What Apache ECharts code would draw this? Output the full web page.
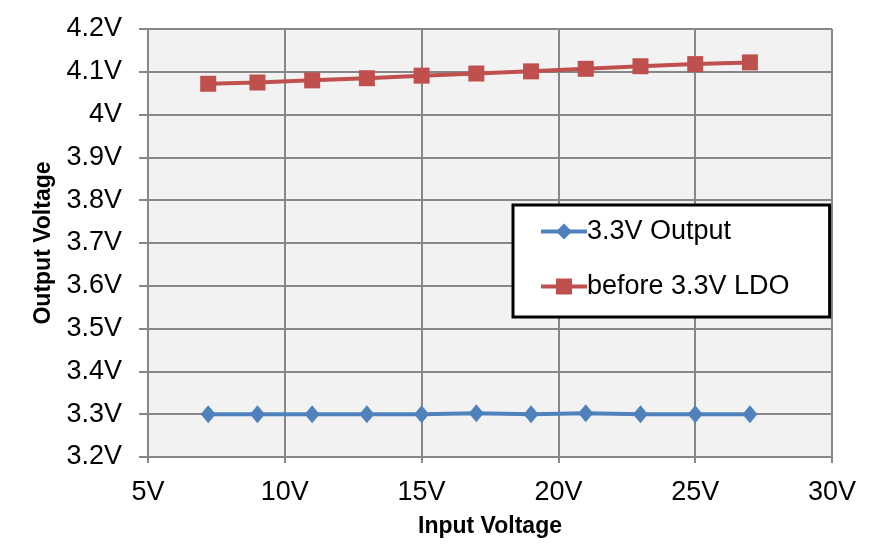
<!DOCTYPE html>
<html>
<head>
<meta charset="utf-8">
<script src="https://cdn.jsdelivr.net/npm/echarts@6/dist/echarts.min.js"></script>
<style>
  html, body { margin: 0; padding: 0; background: #fff; }
  #chart { width: 893px; height: 544px; }
</style>
</head>
<body>
<div id="chart"></div>
<script>
// input voltage (V) for each measurement
const inputVoltage = [7.2, 9, 11, 13, 15, 17, 19, 21, 23, 25, 27];
const output33 = [3.300, 3.300, 3.300, 3.300, 3.300, 3.302, 3.300, 3.302, 3.300, 3.300, 3.300];
const beforeLdo = [4.072, 4.075, 4.080, 4.085, 4.091, 4.096, 4.101, 4.107, 4.113, 4.118, 4.122];
const seriesNames = ['3.3V Output', 'before 3.3V LDO'];

const font = 'Liberation Sans, Arial, sans-serif';
const gridGray = '#878787';

const chart = echarts.init(document.getElementById('chart'));

const option = {
  animation: false,
  textStyle: { fontFamily: font },
  grid: {
    left: 148,
    right: 61,
    top: 29,
    bottom: 87,
    outerBoundsMode: 'none',
    show: true,
    backgroundColor: '#F2F2F2',
    borderWidth: 0
  },
  legend: {
    orient: 'vertical',
    left: 513,
    top: 205,
    data: seriesNames,
    backgroundColor: '#fff',
    borderColor: '#000',
    borderWidth: 3,
    padding: [13, 40, 17, 26],
    itemWidth: 46,
    itemHeight: 20,
    itemGap: 28,
    lineStyle: { width: 4 },
    textStyle: { fontSize: 27, color: '#000', fontFamily: font, padding: [0, 0, 0, -5] }
  },
  xAxis: {
    type: 'value',
    min: 5,
    max: 30,
    interval: 5,
    name: 'Input Voltage',
    nameLocation: 'middle',
    nameGap: 58,
    nameTextStyle: { fontSize: 23, fontWeight: 'bold', color: '#000' },
    axisLine: { show: true, lineStyle: { color: gridGray, width: 2 } },
    axisTick: { show: true, length: 6, lineStyle: { color: gridGray, width: 2 } },
    axisLabel: {
      fontSize: 27,
      color: '#000',
      margin: 22,
      formatter: v => v + 'V'
    },
    splitLine: { show: true, lineStyle: { color: gridGray, width: 2 } }
  },
  yAxis: {
    type: 'value',
    min: 3.2,
    max: 4.2,
    interval: 0.1,
    name: 'Output Voltage',
    nameLocation: 'middle',
    nameGap: 93,
    nameTextStyle: { fontSize: 23, fontWeight: 'bold', color: '#000' },
    axisLine: { show: true, lineStyle: { color: gridGray, width: 2 } },
    axisTick: { show: true, length: 9, lineStyle: { color: gridGray, width: 2 } },
    axisLabel: {
      fontSize: 27,
      color: '#000',
      margin: 26,
      formatter: v => parseFloat(v.toFixed(1)) + 'V'
    },
    splitLine: { show: true, lineStyle: { color: gridGray, width: 2 } }
  },
  series: [
    {
      name: seriesNames[0],
      type: 'line',
      data: inputVoltage.map((x, i) => [x, output33[i]]),
      symbol: 'diamond',
      symbolSize: [15, 18],
      lineStyle: { color: '#4F81BD', width: 4 },
      itemStyle: { color: '#4F81BD' }
    },
    {
      name: seriesNames[1],
      type: 'line',
      data: inputVoltage.map((x, i) => [x, beforeLdo[i]]),
      symbol: 'rect',
      symbolSize: 16,
      lineStyle: { color: '#C0504D', width: 4 },
      itemStyle: { color: '#C0504D' }
    }
  ]
};

chart.setOption(option);
window.addEventListener('resize', () => chart.resize());
</script>
</body>
</html>
